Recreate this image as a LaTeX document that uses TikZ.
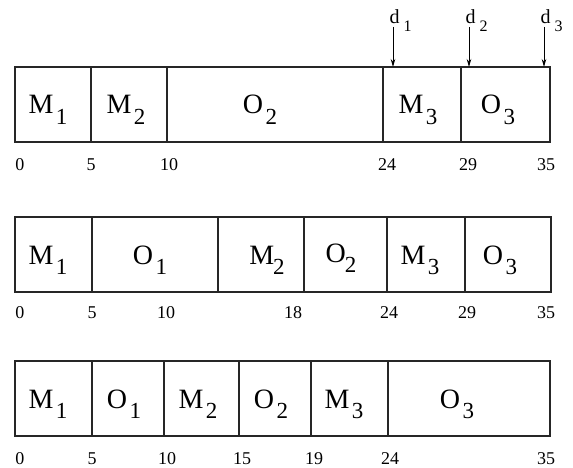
\documentclass[tikz,border=0pt]{standalone}
\usepackage{fontspec}
\setmainfont{Liberation Serif}
\usetikzlibrary{arrows.meta}
% letra con subindice grande y bajado
\newcommand{\tarea}[3][2.5pt]{#2\kern#1\raisebox{-10pt}{\fontsize{23}{23}\selectfont #3}}
\newcommand{\plazosub}[2]{#1\kern4pt\raisebox{-8pt}[0pt][0pt]{\fontsize{16}{16}\selectfont #2}}

\begin{document}
\begin{tikzpicture}[x=1pt, y=-1pt,
        fila/.style={line width=1.2pt, draw=black!85},
        celda/.style={anchor=base, inner sep=0pt, font=\fontsize{28}{28}\selectfont},
        marca/.style={anchor=base, inner sep=0pt, font=\fontsize{18}{18}\selectfont},
        plazo/.style={anchor=base, inner sep=2.5pt, font=\fontsize{20}{20}\selectfont},
        flecha/.style={-{Stealth[length=8pt, width=4.5pt]}, line width=0.8pt}
    ]
        \useasboundingbox (0,0) rectangle (573,468);

        % fila 1
        \draw[fila] (15,67) rectangle (550,142);
        \draw[fila] (91,67) -- (91,142) (167,67) -- (167,142)
            (383,67) -- (383,142) (461,67) -- (461,142);
        \node[celda] (aM1) at (48,114) {\tarea{M}{1}};
        \node[celda] (aM2) at (126,114) {\tarea{M}{2}};
        \node[celda] (aO2) at (260,114) {\tarea{O}{2}};
        \node[celda] (aM3) at (418,114) {\tarea{M}{3}};
        \node[celda] (aO3) at (498,114) {\tarea{O}{3}};

        \node[marca] (a0) at (20,171) {0};
        \node[marca] (a5) at (91,171) {5};
        \node[marca] (a10) at (169,171) {10};
        \node[marca] (a24) at (387,171) {24};
        \node[marca] (a29) at (468,171) {29};
        \node[marca] (a35) at (546,171) {35};

        % plazos d
        \node[plazo, anchor=base west] (d1) at (387,24) {\plazosub{d}{1}};
        \node[plazo, anchor=base west] (d2) at (463,24) {\plazosub{d}{2}};
        \node[plazo, anchor=base west] (d3) at (538,24) {\plazosub{d}{3}};
        \coordinate (t1) at (393,67);
        \coordinate (t2) at (469,67);
        \coordinate (t3) at (544,67);
        \draw[flecha] (t1 |- d1.south) -- (t1);
        \draw[flecha] (t2 |- d2.south) -- (t2);
        \draw[flecha] (t3 |- d3.south) -- (t3);

        % fila 2
        \draw[fila] (15,217) rectangle (551,292);
        \draw[fila] (92,217) -- (92,292) (218,217) -- (218,292)
            (304,217) -- (304,292) (387,217) -- (387,292) (465,217) -- (465,292);
        \node[celda] (bM1) at (48,264) {\tarea{M}{1}};
        \node[celda] (bO1) at (150,264) {\tarea{O}{1}};
        \node[celda] (bM2) at (267,264) {\tarea[-1pt]{M}{2}};
        \node[celda] (bO2) at (341,262) {\tarea[-1pt]{O}{2}};
        \node[celda] (bM3) at (420,264) {\tarea{M}{3}};
        \node[celda] (bO3) at (500,264) {\tarea{O}{3}};

        \node[marca] (b0) at (20,318) {0};
        \node[marca] (b5) at (92,318) {5};
        \node[marca] (b10) at (166,318) {10};
        \node[marca] (b18) at (293,318) {18};
        \node[marca] (b24) at (389,318) {24};
        \node[marca] (b29) at (467,318) {29};
        \node[marca] (b35) at (546,318) {35};

        % fila 3
        \draw[fila] (15,361) rectangle (550,436);
        \draw[fila] (92,361) -- (92,436) (164,361) -- (164,436)
            (239,361) -- (239,436) (311,361) -- (311,436) (388,361) -- (388,436);
        \node[celda] (cM1) at (48,408) {\tarea{M}{1}};
        \node[celda] (cO1) at (124,408) {\tarea{O}{1}};
        \node[celda] (cM2) at (198,408) {\tarea{M}{2}};
        \node[celda] (cO2) at (271,408) {\tarea{O}{2}};
        \node[celda] (cM3) at (344,408) {\tarea{M}{3}};
        \node[celda] (cO3) at (457,408) {\tarea{O}{3}};

        \node[marca] (c0) at (20,464) {0};
        \node[marca] (c5) at (92,464) {5};
        \node[marca] (c10) at (167,464) {10};
        \node[marca] (c15) at (242,464) {15};
        \node[marca] (c19) at (314,464) {19};
        \node[marca] (c24) at (390,464) {24};
        \node[marca] (c35) at (546,464) {35};
    \end{tikzpicture}
\end{document}
